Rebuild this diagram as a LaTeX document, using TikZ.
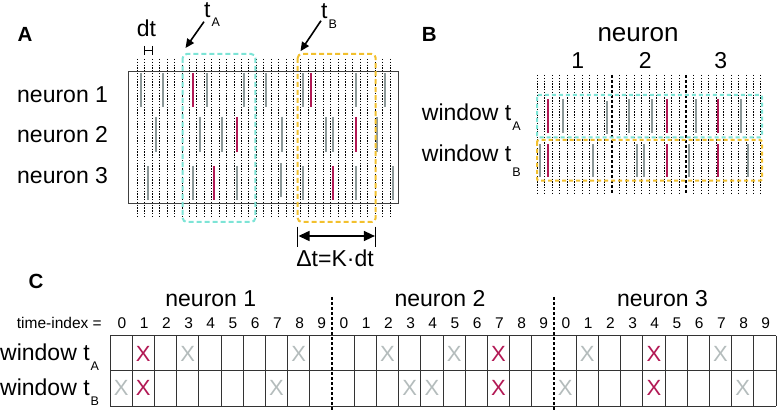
\documentclass[tikz,border=0pt]{standalone}
\usepackage{fontspec}
\setmainfont{Liberation Sans}
\usetikzlibrary{arrows.meta}
\definecolor{spkgray}{RGB}{140,152,152}
\definecolor{spkred}{RGB}{178,24,84}
\definecolor{wincyan}{RGB}{125,228,214}
\definecolor{winyel}{RGB}{242,192,46}
\definecolor{xgray}{RGB}{180,188,188}
\newcommand{\bigf}{\fontsize{23}{27}\selectfont}
\newcommand{\subf}{\fontsize{12.5}{14}\selectfont}
\tikzset{
  lbl/.style={inner sep=0pt, anchor=base west, font=\bigf},
  clbl/.style={inner sep=0pt, anchor=base, font=\bigf},
  panel/.style={inner sep=0pt, anchor=base west, font=\fontsize{20.5}{24}\selectfont\bfseries},
  griddot/.style={line width=0.7pt, dash pattern=on 1.4pt off 1.4pt},
  sepline/.style={line width=1.8pt, dash pattern=on 3pt off 2pt},
  spike/.style={line width=2pt},
  winA/.style={wincyan, line width=2pt, dash pattern=on 5pt off 3pt, rounded corners=4pt},
  winB/.style={winyel, line width=2pt, dash pattern=on 5pt off 3pt, rounded corners=4pt},
  pointer/.style={line width=1.6pt, -{Triangle[length=9pt,width=8pt]}},
  xmark/.style={inner sep=0pt, anchor=center, font=\fontsize{22}{24}\selectfont},
  cellline/.style={black!80, line width=0.9pt}
}
\begin{document}
\begin{tikzpicture}[x=1pt,y=-1pt]
\useasboundingbox (0,0) rectangle (777,414);

% ---------------- Panel A ----------------
\node[panel] (labA) at (17.3,41.7) {A};
\node[lbl] (n1) at (17,103) {neuron 1};
\node[lbl] (n2) at (17,143) {neuron 2};
\node[lbl] (n3) at (17,184) {neuron 3};

\foreach \k in {0,...,34}
  \draw[griddot] ({137.3+7.43*\k},59) -- ({137.3+7.43*\k},217);
\draw[black!75, line width=1pt] (128.3,71.7) rectangle (398.3,204);

% spikes row 1
\foreach \x in {140.7,162.7,207.3,244,266,302.7,356,385.3}
  \draw[spike, spkgray] (\x,73) -- (\x,107);
\foreach \x in {192.7,310.7}
  \draw[spike, spkred] (\x,73) -- (\x,107);
% row 2
\foreach \x in {155.7,200,221.7,281.7,326,333.3,377.3}
  \draw[spike, spkgray] (\x,117) -- (\x,152);
\foreach \x in {236.7,355.7}
  \draw[spike, spkred] (\x,117) -- (\x,152);
% row 3
\foreach \x in {148.3,192.7,236.7,302.7,356,392.7}
  \draw[spike, spkgray] (\x,166) -- (\x,200);
\draw[spike, spkgray] (281,163) -- (281,197);
\foreach \x in {214.3,332.7}
  \draw[spike, spkred] (\x,166) -- (\x,200);

\draw[winA] (182.7,54) rectangle (255.3,222);
\draw[winB] (297.7,54) rectangle (375.7,222);

% dt marker
\node[clbl] (dt) at (146.5,37) {dt};
\draw[line width=1pt] (144.7,46) -- (144.7,55) (144.7,50.5) -- (152.2,50.5) (152.2,46) -- (152.2,55);

% tA, tB pointers
\node[lbl] (tA) at (204,18) {t\hspace{1pt}\raisebox{-9pt}{\subf A}};
\node[lbl] (tB) at (321,18.3) {t\hspace{1pt}\raisebox{-10pt}{\subf B}};
\coordinate (tAs) at (204,21.7);
\coordinate (tAe) at (185.5,48);
\coordinate (tBs) at (321,20.7);
\coordinate (tBe) at (300.5,51.2);
\draw[pointer] (tAs) -- (tAe);
\draw[pointer] (tBs) -- (tBe);

% delta t
\coordinate (dl) at (297.7,236);
\coordinate (dr) at (375.7,236);
\draw[line width=1.5pt] (297.7,226.7) -- (297.7,247.3) (375.7,226.7) -- (375.7,247.3);
\draw[line width=1.5pt, {Triangle[length=11pt,width=10pt]}-{Triangle[length=11pt,width=10pt]}, shorten <=0.8pt, shorten >=0.8pt] (dl) -- (dr);
\node[clbl] (dtl) at (335,266.7) {Δt=K·dt};

% ---------------- Panel B ----------------
\node[panel] (labB) at (421.7,41.7) {B};
\node[clbl, font=\fontsize{26}{30}\selectfont] (nB) at (638,41.5) {neuron};
\node[clbl] (b1) at (577.7,68.3) {1};
\node[clbl] (b2) at (645.3,68.3) {2};
\node[clbl] (b3) at (720.8,68.3) {3};
\node[lbl] (wA) at (421.7,121) {window t\hspace{1pt}\raisebox{-10pt}{\subf A}};
\node[lbl] (wB) at (421.7,161.5) {window t\hspace{1pt}\raisebox{-15pt}{\subf B}};

\foreach \k in {0,...,9,11,12,...,19,21,22,...,30}
  \draw[griddot] ({537.3+7.45*\k},75) -- ({537.3+7.45*\k},193.3);
\draw[sepline] (611.8,75) -- (611.8,193.3);
\draw[sepline] (686.3,75) -- (686.3,193.3);

\foreach \x in {562.7,629.3,651.7,696,741}
  \draw[spike, spkgray] (\x,99.3) -- (\x,132.7);
\draw[spike, spkgray] (607.3,100.6) -- (607.3,134);
\foreach \x in {547.7,666.7,718.3}
  \draw[spike, spkred] (\x,99.3) -- (\x,132.7);
\foreach \x in {540,592.5,636.5,644.2,689.3,748}
  \draw[spike, spkgray] (\x,144) -- (\x,177.3);
\foreach \x in {548,666.7,718.3}
  \draw[spike, spkred] (\x,144) -- (\x,177.3);

\draw[wincyan, line width=2pt, dash pattern=on 4pt off 3pt, rounded corners=2pt] (537,95) rectangle (762,137.3);
\draw[winyel, line width=2pt, dash pattern=on 4pt off 3pt, rounded corners=2pt] (537,140) rectangle (762,180.7);

% ---------------- Panel C ----------------
\node[panel] (labC) at (28.3,288.3) {C};
\node[clbl] (c1) at (210.8,306.7) {neuron 1};
\node[clbl] (c2) at (440,306.7) {neuron 2};
\node[clbl] (c3) at (662.5,306.7) {neuron 3};
\node[inner sep=0pt, anchor=base west, font=\fontsize{15.5}{18}\selectfont] (ti) at (16.7,328.3) {time-index =};
\foreach \i in {0,...,29}{
  \pgfmathtruncatemacro{\dd}{mod(\i,10)}
  \node[inner sep=0pt, anchor=base, font=\fontsize{15.5}{18}\selectfont] (d\i) at ({110+22.2*\i+12},328.3) {\dd};
}
\node[lbl] (cwA) at (0,360) {window t\hspace{1pt}\raisebox{-10pt}{\subf A}};
\node[lbl] (cwB) at (0,395) {window t\hspace{1pt}\raisebox{-10pt}{\subf B}};

\foreach \y in {335.5,370.5,406}
  \draw[cellline] (110,\y) -- (776,\y);
\foreach \i in {0,...,9,11,12,...,19,21,22,...,30}
  \draw[cellline] ({110+22.2*\i},335.5) -- ({110+22.2*\i},406);
\draw[sepline, line width=1.6pt] (332,297) -- (332,410);
\draw[sepline, line width=1.6pt] (554,297) -- (554,410);

\foreach \c in {1,17,24}
  \node[xmark, spkred] (ra\c) at ({110+22.2*\c+11.1},353.5) {X};
\foreach \c in {3,8,12,15,21,27}
  \node[xmark, xgray] (ga\c) at ({110+22.2*\c+11.1},353.5) {X};
\foreach \c in {1,17,24}
  \node[xmark, spkred] (rb\c) at ({110+22.2*\c+11.1},388.3) {X};
\foreach \c in {0,7,13,14,20,28}
  \node[xmark, xgray] (gb\c) at ({110+22.2*\c+11.1},388.3) {X};
\end{tikzpicture}
\end{document}
